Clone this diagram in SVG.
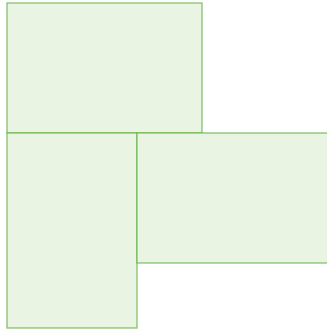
<svg xmlns="http://www.w3.org/2000/svg" width="327" height="329" viewBox="0 0 327 329">
<style>
.r{fill:#eaf4e3;stroke:#5fb03e;stroke-opacity:0.75;stroke-width:1.3}
</style>
<rect width="327" height="329" fill="#ffffff"/>
<g id="node1"><rect class="r" x="7" y="3" width="195" height="130"/></g>
<g id="node2"><rect class="r" x="7" y="133" width="130" height="195"/></g>
<g id="node3"><rect class="r" x="137" y="133" width="195" height="130"/></g>
<g id="connectors"></g>
</svg>
